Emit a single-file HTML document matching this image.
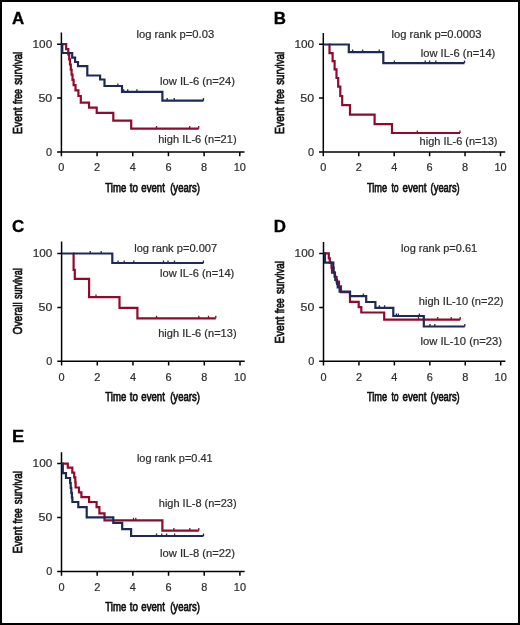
<!DOCTYPE html>
<html><head><meta charset="utf-8"><style>
html,body{margin:0;padding:0;background:#fff;}
body{width:520px;height:625px;overflow:hidden;}
svg{display:block;font-family:"Liberation Sans",sans-serif;will-change:transform;}
</style></head><body>
<svg width="520" height="625" viewBox="0 0 520 625">
<rect x="0" y="0" width="520" height="625" fill="#fff"/>
<path d="M61.4 32.6 V156.3 M57.1 152 H244.5" stroke="#000" stroke-width="1.5" fill="none"/>
<path d="M57.1 44.2 H61.4 M57.1 98.1 H61.4 M97.08 152 V156.3 M132.76 152 V156.3 M168.44 152 V156.3 M204.12 152 V156.3 M239.8 152 V156.3" stroke="#000" stroke-width="1.5" fill="none"/>
<path d="M323.3 33.1 V156.3 M319 152 H505.2" stroke="#000" stroke-width="1.5" fill="none"/>
<path d="M319 44.2 H323.3 M319 98.1 H323.3 M358.74 152 V156.3 M394.18 152 V156.3 M429.62 152 V156.3 M465.06 152 V156.3 M500.5 152 V156.3" stroke="#000" stroke-width="1.5" fill="none"/>
<path d="M61.6 241.5 V365.6 M57.3 361.3 H244.7" stroke="#000" stroke-width="1.5" fill="none"/>
<path d="M57.3 253.5 H61.6 M57.3 307.4 H61.6 M97.28 361.3 V365.6 M132.96 361.3 V365.6 M168.64 361.3 V365.6 M204.32 361.3 V365.6 M240 361.3 V365.6" stroke="#000" stroke-width="1.5" fill="none"/>
<path d="M323.5 242 V365.6 M319.2 361.3 H505.4" stroke="#000" stroke-width="1.5" fill="none"/>
<path d="M319.2 253.5 H323.5 M319.2 307.4 H323.5 M358.94 361.3 V365.6 M394.38 361.3 V365.6 M429.82 361.3 V365.6 M465.26 361.3 V365.6 M500.7 361.3 V365.6" stroke="#000" stroke-width="1.5" fill="none"/>
<path d="M61.5 452.3 V575.7 M57.2 571.4 H244.6" stroke="#000" stroke-width="1.5" fill="none"/>
<path d="M57.2 463.6 H61.5 M57.2 517.5 H61.5 M97.18 571.4 V575.7 M132.86 571.4 V575.7 M168.54 571.4 V575.7 M204.22 571.4 V575.7 M239.9 571.4 V575.7" stroke="#000" stroke-width="1.5" fill="none"/>
<path d="M61.4 44.2 H66.2 V49.2 H68.3 V54.3 H69.2 V59.4 H70 V64.5 H70.8 V69.6 H71.6 V74.7 H72.5 V79.8 H73.6 V85.2 H75.5 V90.3 H78.4 V96 H80.8 V102.6 H89 V107.7 H96.7 V112.9 H113.3 V120.6 H131.2 V128.7 H198.7" fill="none" stroke="#900a2d" stroke-width="2.2"/>
<path d="M156.5 128.7 V126.1 M189.7 128.7 V126.1 M198.7 128.7 V126.1" fill="none" stroke="#900a2d" stroke-width="1.3"/>
<path d="M328.9 44.5 H329.5 V53.2 H332.6 V61.2 H334.6 V69.4 H336.5 V78 H338.2 V86.6 H340.3 V96 H342.2 V105.2 H350 V114.6 H374.6 V124.2 H392 V133 H460" fill="none" stroke="#900a2d" stroke-width="2.2"/>
<path d="M417.3 133 V130.4 M460 133 V130.4" fill="none" stroke="#900a2d" stroke-width="1.3"/>
<path d="M73 253.5 H73.6 V269.8 H74.8 V278.9 H89.1 V297.1 H119.5 V307.8 H137.4 V318.3 H215.8" fill="none" stroke="#900a2d" stroke-width="2.2"/>
<path d="M96 297.1 V294.5 M156.5 318.3 V315.7 M198.8 318.3 V315.7 M208.5 318.3 V315.7 M215.8 318.3 V315.7" fill="none" stroke="#900a2d" stroke-width="1.3"/>
<path d="M323.5 253.4 H328.8 V258.3 H329.8 V262.6 H331.5 V267.6 H332 V272.6 H335 V277 H336.6 V281.5 H339 V286.4 H341 V292.2 H350 V301.9 H358.7 V307.1 H361.3 V312.5 H384.2 V319.7 H460.2" fill="none" stroke="#900a2d" stroke-width="2.2"/>
<path d="M418.5 319.7 V317.1 M437.7 319.7 V317.1 M451.2 319.7 V317.1 M460.2 319.7 V317.1" fill="none" stroke="#900a2d" stroke-width="1.3"/>
<path d="M61.5 463.6 H67.8 V467.7 H72.3 V472.7 H74.2 V477.3 H75.3 V482.3 H75.6 V487.5 H79 V492.4 H81.4 V497.2 H89.1 V502 H96.6 V507.2 H99.4 V513.3 H104.5 V520.3 H162.4 V530.7 H198.8" fill="none" stroke="#900a2d" stroke-width="2.2"/>
<path d="M133.5 520.3 V517.7 M135.8 520.3 V517.7 M173.9 530.7 V528.1 M189.8 530.7 V528.1 M198.8 530.7 V528.1" fill="none" stroke="#900a2d" stroke-width="1.3"/>
<path d="M61.4 44.2 H62.3 V53 H72.2 V57.6 H75.1 V62 H78 V66.2 H87.3 V75.5 H100.1 V79.5 H104.5 V86 H122 V91.9 H162.4 V100.7 H203.5" fill="none" stroke="#1e2a54" stroke-width="2.2"/>
<path d="M117.9 86 V83.4 M123.7 91.9 V89.3 M127.7 91.9 V89.3 M136.9 91.9 V89.3 M167.2 100.7 V98.1 M174.2 100.7 V98.1 M203.5 100.7 V98.1" fill="none" stroke="#1e2a54" stroke-width="1.3"/>
<path d="M323.3 44.5 H348.8 V52.2 H383.3 V63.1 H464.5" fill="none" stroke="#1e2a54" stroke-width="2.2"/>
<path d="M352.6 52.2 V49.6 M362.6 52.2 V49.6 M379.2 52.2 V49.6 M394.4 63.1 V60.5 M425.2 63.1 V60.5 M429.6 63.1 V60.5 M435.8 63.1 V60.5 M464.5 63.1 V60.5" fill="none" stroke="#1e2a54" stroke-width="1.3"/>
<path d="M61.6 253.5 H112.3 V263 H203.4" fill="none" stroke="#1e2a54" stroke-width="2.2"/>
<path d="M90.2 253.5 V250.9 M101.2 253.5 V250.9 M118.1 263 V260.4 M124.2 263 V260.4 M133.8 263 V260.4 M163.5 263 V260.4 M168 263 V260.4 M174.5 263 V260.4 M203.4 263 V260.4" fill="none" stroke="#1e2a54" stroke-width="1.3"/>
<path d="M323.5 253.4 H325 V262.6 H333.3 V267.5 H333.7 V272.6 H334.6 V276.4 H335.3 V280 H337 V284 H337.7 V287.3 H339.6 V291.6 H350 V296.2 H366.2 V302 H375.4 V307.8 H393.3 V316 H423.8 V326.5 H464.8" fill="none" stroke="#1e2a54" stroke-width="2.2"/>
<path d="M363.3 296.2 V293.6 M379.4 307.8 V305.2 M384.6 307.8 V305.2 M396.3 316 V313.4 M398.3 316 V313.4 M419.4 316 V313.4 M430 326.5 V323.9 M434.8 326.5 V323.9 M464.8 326.5 V323.9" fill="none" stroke="#1e2a54" stroke-width="1.3"/>
<path d="M61.5 463.6 H62.8 V473.2 H66 V478 H70.1 V483 H70.7 V487.9 H71.3 V492.8 H71.9 V497.7 H72.4 V502 H78.3 V507.2 H86.7 V517.4 H113.3 V522.9 H122.2 V529.1 H131.1 V536 H203.5" fill="none" stroke="#1e2a54" stroke-width="2.2"/>
<path d="M156.5 536 V533.4 M161.7 536 V533.4 M166.6 536 V533.4 M174.6 536 V533.4 M203.5 536 V533.4" fill="none" stroke="#1e2a54" stroke-width="1.3"/>
<text x="12.1" y="23.8" font-size="17.2" font-weight="bold" fill="#000" textLength="12.2" lengthAdjust="spacingAndGlyphs" stroke="#000" stroke-width="0.35">A</text>
<text x="32.5" y="47.8" font-size="11.2" font-weight="normal" fill="#2e2e2e" textLength="19.7" lengthAdjust="spacingAndGlyphs" stroke="#2e2e2e" stroke-width="0.22">100</text>
<text x="38.4" y="101.7" font-size="11.2" font-weight="normal" fill="#2e2e2e" textLength="13.8" lengthAdjust="spacingAndGlyphs" stroke="#2e2e2e" stroke-width="0.22">50</text>
<text x="46.1" y="155.6" font-size="11.2" font-weight="normal" fill="#2e2e2e" textLength="6.1" lengthAdjust="spacingAndGlyphs" stroke="#2e2e2e" stroke-width="0.22">0</text>
<text x="58.35" y="171.3" font-size="11.2" font-weight="normal" fill="#2e2e2e" textLength="6.1" lengthAdjust="spacingAndGlyphs" stroke="#2e2e2e" stroke-width="0.22">0</text>
<text x="94.03" y="171.3" font-size="11.2" font-weight="normal" fill="#2e2e2e" textLength="6.1" lengthAdjust="spacingAndGlyphs" stroke="#2e2e2e" stroke-width="0.22">2</text>
<text x="129.71" y="171.3" font-size="11.2" font-weight="normal" fill="#2e2e2e" textLength="6.1" lengthAdjust="spacingAndGlyphs" stroke="#2e2e2e" stroke-width="0.22">4</text>
<text x="165.39" y="171.3" font-size="11.2" font-weight="normal" fill="#2e2e2e" textLength="6.1" lengthAdjust="spacingAndGlyphs" stroke="#2e2e2e" stroke-width="0.22">6</text>
<text x="201.07" y="171.3" font-size="11.2" font-weight="normal" fill="#2e2e2e" textLength="6.1" lengthAdjust="spacingAndGlyphs" stroke="#2e2e2e" stroke-width="0.22">8</text>
<text x="233.7" y="171.3" font-size="11.2" font-weight="normal" fill="#2e2e2e" textLength="12.2" lengthAdjust="spacingAndGlyphs" stroke="#2e2e2e" stroke-width="0.22">10</text>
<text x="105.3" y="191.6" font-size="13.6" font-weight="normal" fill="#111" textLength="20.9" lengthAdjust="spacingAndGlyphs" stroke="#111" stroke-width="0.75">Time</text>
<text x="129.8" y="191.6" font-size="13.6" font-weight="normal" fill="#111" textLength="8.2" lengthAdjust="spacingAndGlyphs" stroke="#111" stroke-width="0.75">to</text>
<text x="141.3" y="191.6" font-size="13.6" font-weight="normal" fill="#111" textLength="23.6" lengthAdjust="spacingAndGlyphs" stroke="#111" stroke-width="0.75">event</text>
<text x="170.2" y="191.6" font-size="13.6" font-weight="normal" fill="#111" textLength="29.7" lengthAdjust="spacingAndGlyphs" stroke="#111" stroke-width="0.75">(years)</text>
<text transform="translate(22.3 133.9) rotate(-90)" font-size="13.6" font-weight="normal" fill="#111" textLength="26.6" lengthAdjust="spacingAndGlyphs" stroke="#111" stroke-width="0.75">Event</text>
<text transform="translate(22.3 104) rotate(-90)" font-size="13.6" font-weight="normal" fill="#111" textLength="14.9" lengthAdjust="spacingAndGlyphs" stroke="#111" stroke-width="0.75">free</text>
<text transform="translate(22.3 84.8) rotate(-90)" font-size="13.6" font-weight="normal" fill="#111" textLength="33" lengthAdjust="spacingAndGlyphs" stroke="#111" stroke-width="0.75">survival</text>
<text x="273.8" y="23.8" font-size="17.2" font-weight="bold" fill="#000" textLength="12.2" lengthAdjust="spacingAndGlyphs" stroke="#000" stroke-width="0.35">B</text>
<text x="294.4" y="47.8" font-size="11.2" font-weight="normal" fill="#2e2e2e" textLength="19.7" lengthAdjust="spacingAndGlyphs" stroke="#2e2e2e" stroke-width="0.22">100</text>
<text x="300.3" y="101.7" font-size="11.2" font-weight="normal" fill="#2e2e2e" textLength="13.8" lengthAdjust="spacingAndGlyphs" stroke="#2e2e2e" stroke-width="0.22">50</text>
<text x="308" y="155.6" font-size="11.2" font-weight="normal" fill="#2e2e2e" textLength="6.1" lengthAdjust="spacingAndGlyphs" stroke="#2e2e2e" stroke-width="0.22">0</text>
<text x="320.25" y="171.3" font-size="11.2" font-weight="normal" fill="#2e2e2e" textLength="6.1" lengthAdjust="spacingAndGlyphs" stroke="#2e2e2e" stroke-width="0.22">0</text>
<text x="355.69" y="171.3" font-size="11.2" font-weight="normal" fill="#2e2e2e" textLength="6.1" lengthAdjust="spacingAndGlyphs" stroke="#2e2e2e" stroke-width="0.22">2</text>
<text x="391.13" y="171.3" font-size="11.2" font-weight="normal" fill="#2e2e2e" textLength="6.1" lengthAdjust="spacingAndGlyphs" stroke="#2e2e2e" stroke-width="0.22">4</text>
<text x="426.57" y="171.3" font-size="11.2" font-weight="normal" fill="#2e2e2e" textLength="6.1" lengthAdjust="spacingAndGlyphs" stroke="#2e2e2e" stroke-width="0.22">6</text>
<text x="462.01" y="171.3" font-size="11.2" font-weight="normal" fill="#2e2e2e" textLength="6.1" lengthAdjust="spacingAndGlyphs" stroke="#2e2e2e" stroke-width="0.22">8</text>
<text x="494.4" y="171.3" font-size="11.2" font-weight="normal" fill="#2e2e2e" textLength="12.2" lengthAdjust="spacingAndGlyphs" stroke="#2e2e2e" stroke-width="0.22">10</text>
<text x="366.9" y="191.6" font-size="13.6" font-weight="normal" fill="#111" textLength="20.2" lengthAdjust="spacingAndGlyphs" stroke="#111" stroke-width="0.75">Time</text>
<text x="391.4" y="191.6" font-size="13.6" font-weight="normal" fill="#111" textLength="7.2" lengthAdjust="spacingAndGlyphs" stroke="#111" stroke-width="0.75">to</text>
<text x="402.5" y="191.6" font-size="13.6" font-weight="normal" fill="#111" textLength="23.9" lengthAdjust="spacingAndGlyphs" stroke="#111" stroke-width="0.75">event</text>
<text x="430.6" y="191.6" font-size="13.6" font-weight="normal" fill="#111" textLength="29.1" lengthAdjust="spacingAndGlyphs" stroke="#111" stroke-width="0.75">(years)</text>
<text transform="translate(284 133.9) rotate(-90)" font-size="13.6" font-weight="normal" fill="#111" textLength="26.6" lengthAdjust="spacingAndGlyphs" stroke="#111" stroke-width="0.75">Event</text>
<text transform="translate(284 104) rotate(-90)" font-size="13.6" font-weight="normal" fill="#111" textLength="14.9" lengthAdjust="spacingAndGlyphs" stroke="#111" stroke-width="0.75">free</text>
<text transform="translate(284 84.8) rotate(-90)" font-size="13.6" font-weight="normal" fill="#111" textLength="33" lengthAdjust="spacingAndGlyphs" stroke="#111" stroke-width="0.75">survival</text>
<text x="12.1" y="231.7" font-size="17.2" font-weight="bold" fill="#000" textLength="12.2" lengthAdjust="spacingAndGlyphs" stroke="#000" stroke-width="0.35">C</text>
<text x="32.7" y="257.1" font-size="11.2" font-weight="normal" fill="#2e2e2e" textLength="19.7" lengthAdjust="spacingAndGlyphs" stroke="#2e2e2e" stroke-width="0.22">100</text>
<text x="38.6" y="311" font-size="11.2" font-weight="normal" fill="#2e2e2e" textLength="13.8" lengthAdjust="spacingAndGlyphs" stroke="#2e2e2e" stroke-width="0.22">50</text>
<text x="46.3" y="364.9" font-size="11.2" font-weight="normal" fill="#2e2e2e" textLength="6.1" lengthAdjust="spacingAndGlyphs" stroke="#2e2e2e" stroke-width="0.22">0</text>
<text x="58.55" y="380.6" font-size="11.2" font-weight="normal" fill="#2e2e2e" textLength="6.1" lengthAdjust="spacingAndGlyphs" stroke="#2e2e2e" stroke-width="0.22">0</text>
<text x="94.23" y="380.6" font-size="11.2" font-weight="normal" fill="#2e2e2e" textLength="6.1" lengthAdjust="spacingAndGlyphs" stroke="#2e2e2e" stroke-width="0.22">2</text>
<text x="129.91" y="380.6" font-size="11.2" font-weight="normal" fill="#2e2e2e" textLength="6.1" lengthAdjust="spacingAndGlyphs" stroke="#2e2e2e" stroke-width="0.22">4</text>
<text x="165.59" y="380.6" font-size="11.2" font-weight="normal" fill="#2e2e2e" textLength="6.1" lengthAdjust="spacingAndGlyphs" stroke="#2e2e2e" stroke-width="0.22">6</text>
<text x="201.27" y="380.6" font-size="11.2" font-weight="normal" fill="#2e2e2e" textLength="6.1" lengthAdjust="spacingAndGlyphs" stroke="#2e2e2e" stroke-width="0.22">8</text>
<text x="233.9" y="380.6" font-size="11.2" font-weight="normal" fill="#2e2e2e" textLength="12.2" lengthAdjust="spacingAndGlyphs" stroke="#2e2e2e" stroke-width="0.22">10</text>
<text x="105.3" y="400.9" font-size="13.6" font-weight="normal" fill="#111" textLength="20.9" lengthAdjust="spacingAndGlyphs" stroke="#111" stroke-width="0.75">Time</text>
<text x="129.8" y="400.9" font-size="13.6" font-weight="normal" fill="#111" textLength="8.2" lengthAdjust="spacingAndGlyphs" stroke="#111" stroke-width="0.75">to</text>
<text x="141.3" y="400.9" font-size="13.6" font-weight="normal" fill="#111" textLength="23.6" lengthAdjust="spacingAndGlyphs" stroke="#111" stroke-width="0.75">event</text>
<text x="170.2" y="400.9" font-size="13.6" font-weight="normal" fill="#111" textLength="29.7" lengthAdjust="spacingAndGlyphs" stroke="#111" stroke-width="0.75">(years)</text>
<text transform="translate(22.3 334.4) rotate(-90)" font-size="13.6" font-weight="normal" fill="#111" textLength="32.1" lengthAdjust="spacingAndGlyphs" stroke="#111" stroke-width="0.75">Overall</text>
<text transform="translate(22.3 299.1) rotate(-90)" font-size="13.6" font-weight="normal" fill="#111" textLength="30.8" lengthAdjust="spacingAndGlyphs" stroke="#111" stroke-width="0.75">survival</text>
<text x="273.8" y="231.7" font-size="17.2" font-weight="bold" fill="#000" textLength="12.2" lengthAdjust="spacingAndGlyphs" stroke="#000" stroke-width="0.35">D</text>
<text x="294.6" y="257.1" font-size="11.2" font-weight="normal" fill="#2e2e2e" textLength="19.7" lengthAdjust="spacingAndGlyphs" stroke="#2e2e2e" stroke-width="0.22">100</text>
<text x="300.5" y="311" font-size="11.2" font-weight="normal" fill="#2e2e2e" textLength="13.8" lengthAdjust="spacingAndGlyphs" stroke="#2e2e2e" stroke-width="0.22">50</text>
<text x="308.2" y="364.9" font-size="11.2" font-weight="normal" fill="#2e2e2e" textLength="6.1" lengthAdjust="spacingAndGlyphs" stroke="#2e2e2e" stroke-width="0.22">0</text>
<text x="320.45" y="380.6" font-size="11.2" font-weight="normal" fill="#2e2e2e" textLength="6.1" lengthAdjust="spacingAndGlyphs" stroke="#2e2e2e" stroke-width="0.22">0</text>
<text x="355.89" y="380.6" font-size="11.2" font-weight="normal" fill="#2e2e2e" textLength="6.1" lengthAdjust="spacingAndGlyphs" stroke="#2e2e2e" stroke-width="0.22">2</text>
<text x="391.33" y="380.6" font-size="11.2" font-weight="normal" fill="#2e2e2e" textLength="6.1" lengthAdjust="spacingAndGlyphs" stroke="#2e2e2e" stroke-width="0.22">4</text>
<text x="426.77" y="380.6" font-size="11.2" font-weight="normal" fill="#2e2e2e" textLength="6.1" lengthAdjust="spacingAndGlyphs" stroke="#2e2e2e" stroke-width="0.22">6</text>
<text x="462.21" y="380.6" font-size="11.2" font-weight="normal" fill="#2e2e2e" textLength="6.1" lengthAdjust="spacingAndGlyphs" stroke="#2e2e2e" stroke-width="0.22">8</text>
<text x="494.6" y="380.6" font-size="11.2" font-weight="normal" fill="#2e2e2e" textLength="12.2" lengthAdjust="spacingAndGlyphs" stroke="#2e2e2e" stroke-width="0.22">10</text>
<text x="366.9" y="400.9" font-size="13.6" font-weight="normal" fill="#111" textLength="20.2" lengthAdjust="spacingAndGlyphs" stroke="#111" stroke-width="0.75">Time</text>
<text x="391.4" y="400.9" font-size="13.6" font-weight="normal" fill="#111" textLength="7.2" lengthAdjust="spacingAndGlyphs" stroke="#111" stroke-width="0.75">to</text>
<text x="402.5" y="400.9" font-size="13.6" font-weight="normal" fill="#111" textLength="23.9" lengthAdjust="spacingAndGlyphs" stroke="#111" stroke-width="0.75">event</text>
<text x="430.6" y="400.9" font-size="13.6" font-weight="normal" fill="#111" textLength="29.1" lengthAdjust="spacingAndGlyphs" stroke="#111" stroke-width="0.75">(years)</text>
<text transform="translate(284 343.2) rotate(-90)" font-size="13.6" font-weight="normal" fill="#111" textLength="26.6" lengthAdjust="spacingAndGlyphs" stroke="#111" stroke-width="0.75">Event</text>
<text transform="translate(284 313.3) rotate(-90)" font-size="13.6" font-weight="normal" fill="#111" textLength="14.9" lengthAdjust="spacingAndGlyphs" stroke="#111" stroke-width="0.75">free</text>
<text transform="translate(284 294.1) rotate(-90)" font-size="13.6" font-weight="normal" fill="#111" textLength="33" lengthAdjust="spacingAndGlyphs" stroke="#111" stroke-width="0.75">survival</text>
<text x="12.1" y="441.6" font-size="17.2" font-weight="bold" fill="#000" textLength="12.2" lengthAdjust="spacingAndGlyphs" stroke="#000" stroke-width="0.35">E</text>
<text x="32.6" y="467.2" font-size="11.2" font-weight="normal" fill="#2e2e2e" textLength="19.7" lengthAdjust="spacingAndGlyphs" stroke="#2e2e2e" stroke-width="0.22">100</text>
<text x="38.5" y="521.1" font-size="11.2" font-weight="normal" fill="#2e2e2e" textLength="13.8" lengthAdjust="spacingAndGlyphs" stroke="#2e2e2e" stroke-width="0.22">50</text>
<text x="46.2" y="575" font-size="11.2" font-weight="normal" fill="#2e2e2e" textLength="6.1" lengthAdjust="spacingAndGlyphs" stroke="#2e2e2e" stroke-width="0.22">0</text>
<text x="58.45" y="590.7" font-size="11.2" font-weight="normal" fill="#2e2e2e" textLength="6.1" lengthAdjust="spacingAndGlyphs" stroke="#2e2e2e" stroke-width="0.22">0</text>
<text x="94.13" y="590.7" font-size="11.2" font-weight="normal" fill="#2e2e2e" textLength="6.1" lengthAdjust="spacingAndGlyphs" stroke="#2e2e2e" stroke-width="0.22">2</text>
<text x="129.81" y="590.7" font-size="11.2" font-weight="normal" fill="#2e2e2e" textLength="6.1" lengthAdjust="spacingAndGlyphs" stroke="#2e2e2e" stroke-width="0.22">4</text>
<text x="165.49" y="590.7" font-size="11.2" font-weight="normal" fill="#2e2e2e" textLength="6.1" lengthAdjust="spacingAndGlyphs" stroke="#2e2e2e" stroke-width="0.22">6</text>
<text x="201.17" y="590.7" font-size="11.2" font-weight="normal" fill="#2e2e2e" textLength="6.1" lengthAdjust="spacingAndGlyphs" stroke="#2e2e2e" stroke-width="0.22">8</text>
<text x="233.8" y="590.7" font-size="11.2" font-weight="normal" fill="#2e2e2e" textLength="12.2" lengthAdjust="spacingAndGlyphs" stroke="#2e2e2e" stroke-width="0.22">10</text>
<text x="105.3" y="611" font-size="13.6" font-weight="normal" fill="#111" textLength="20.9" lengthAdjust="spacingAndGlyphs" stroke="#111" stroke-width="0.75">Time</text>
<text x="129.8" y="611" font-size="13.6" font-weight="normal" fill="#111" textLength="8.2" lengthAdjust="spacingAndGlyphs" stroke="#111" stroke-width="0.75">to</text>
<text x="141.3" y="611" font-size="13.6" font-weight="normal" fill="#111" textLength="23.6" lengthAdjust="spacingAndGlyphs" stroke="#111" stroke-width="0.75">event</text>
<text x="170.2" y="611" font-size="13.6" font-weight="normal" fill="#111" textLength="29.7" lengthAdjust="spacingAndGlyphs" stroke="#111" stroke-width="0.75">(years)</text>
<text transform="translate(22.3 553.3) rotate(-90)" font-size="13.6" font-weight="normal" fill="#111" textLength="26.6" lengthAdjust="spacingAndGlyphs" stroke="#111" stroke-width="0.75">Event</text>
<text transform="translate(22.3 523.4) rotate(-90)" font-size="13.6" font-weight="normal" fill="#111" textLength="14.9" lengthAdjust="spacingAndGlyphs" stroke="#111" stroke-width="0.75">free</text>
<text transform="translate(22.3 504.2) rotate(-90)" font-size="13.6" font-weight="normal" fill="#111" textLength="33" lengthAdjust="spacingAndGlyphs" stroke="#111" stroke-width="0.75">survival</text>
<text x="136.5" y="38.2" font-size="11.2" font-weight="normal" fill="#2e2e2e" textLength="77.7" lengthAdjust="spacingAndGlyphs" stroke="#2e2e2e" stroke-width="0.22">log rank p=0.03</text>
<text x="160" y="84.9" font-size="11.2" font-weight="normal" fill="#2e2e2e" textLength="75" lengthAdjust="spacingAndGlyphs" stroke="#2e2e2e" stroke-width="0.22">low IL-6 (n=24)</text>
<text x="158.2" y="142.6" font-size="11.2" font-weight="normal" fill="#2e2e2e" textLength="78.4" lengthAdjust="spacingAndGlyphs" stroke="#2e2e2e" stroke-width="0.22">high IL-6 (n=21)</text>
<text x="391.5" y="37.7" font-size="11.2" font-weight="normal" fill="#2e2e2e" textLength="90" lengthAdjust="spacingAndGlyphs" stroke="#2e2e2e" stroke-width="0.22">log rank p=0.0003</text>
<text x="420.8" y="56.6" font-size="11.2" font-weight="normal" fill="#2e2e2e" textLength="74.5" lengthAdjust="spacingAndGlyphs" stroke="#2e2e2e" stroke-width="0.22">low IL-6 (n=14)</text>
<text x="419.6" y="145.4" font-size="11.2" font-weight="normal" fill="#2e2e2e" textLength="77.8" lengthAdjust="spacingAndGlyphs" stroke="#2e2e2e" stroke-width="0.22">high IL-6 (n=13)</text>
<text x="134.2" y="252" font-size="11.2" font-weight="normal" fill="#2e2e2e" textLength="83" lengthAdjust="spacingAndGlyphs" stroke="#2e2e2e" stroke-width="0.22">log rank p=0.007</text>
<text x="160" y="276.9" font-size="11.2" font-weight="normal" fill="#2e2e2e" textLength="74.3" lengthAdjust="spacingAndGlyphs" stroke="#2e2e2e" stroke-width="0.22">low IL-6 (n=14)</text>
<text x="158.2" y="337.3" font-size="11.2" font-weight="normal" fill="#2e2e2e" textLength="78.4" lengthAdjust="spacingAndGlyphs" stroke="#2e2e2e" stroke-width="0.22">high IL-6 (n=13)</text>
<text x="401.1" y="252" font-size="11.2" font-weight="normal" fill="#2e2e2e" textLength="76.1" lengthAdjust="spacingAndGlyphs" stroke="#2e2e2e" stroke-width="0.22">log rank p=0.61</text>
<text x="418.8" y="304.6" font-size="11.2" font-weight="normal" fill="#2e2e2e" textLength="84.7" lengthAdjust="spacingAndGlyphs" stroke="#2e2e2e" stroke-width="0.22">high IL-10 (n=22)</text>
<text x="420.5" y="345" font-size="11.2" font-weight="normal" fill="#2e2e2e" textLength="81.4" lengthAdjust="spacingAndGlyphs" stroke="#2e2e2e" stroke-width="0.22">low IL-10 (n=23)</text>
<text x="136.9" y="462" font-size="11.2" font-weight="normal" fill="#2e2e2e" textLength="75.7" lengthAdjust="spacingAndGlyphs" stroke="#2e2e2e" stroke-width="0.22">log rank p=0.41</text>
<text x="158.8" y="506.5" font-size="11.2" font-weight="normal" fill="#2e2e2e" textLength="77.8" lengthAdjust="spacingAndGlyphs" stroke="#2e2e2e" stroke-width="0.22">high IL-8 (n=23)</text>
<text x="160" y="557.3" font-size="11.2" font-weight="normal" fill="#2e2e2e" textLength="75" lengthAdjust="spacingAndGlyphs" stroke="#2e2e2e" stroke-width="0.22">low IL-8 (n=22)</text>
<rect x="1" y="1" width="518" height="623" fill="none" stroke="#000" stroke-width="2"/>
</svg>
</body></html>
